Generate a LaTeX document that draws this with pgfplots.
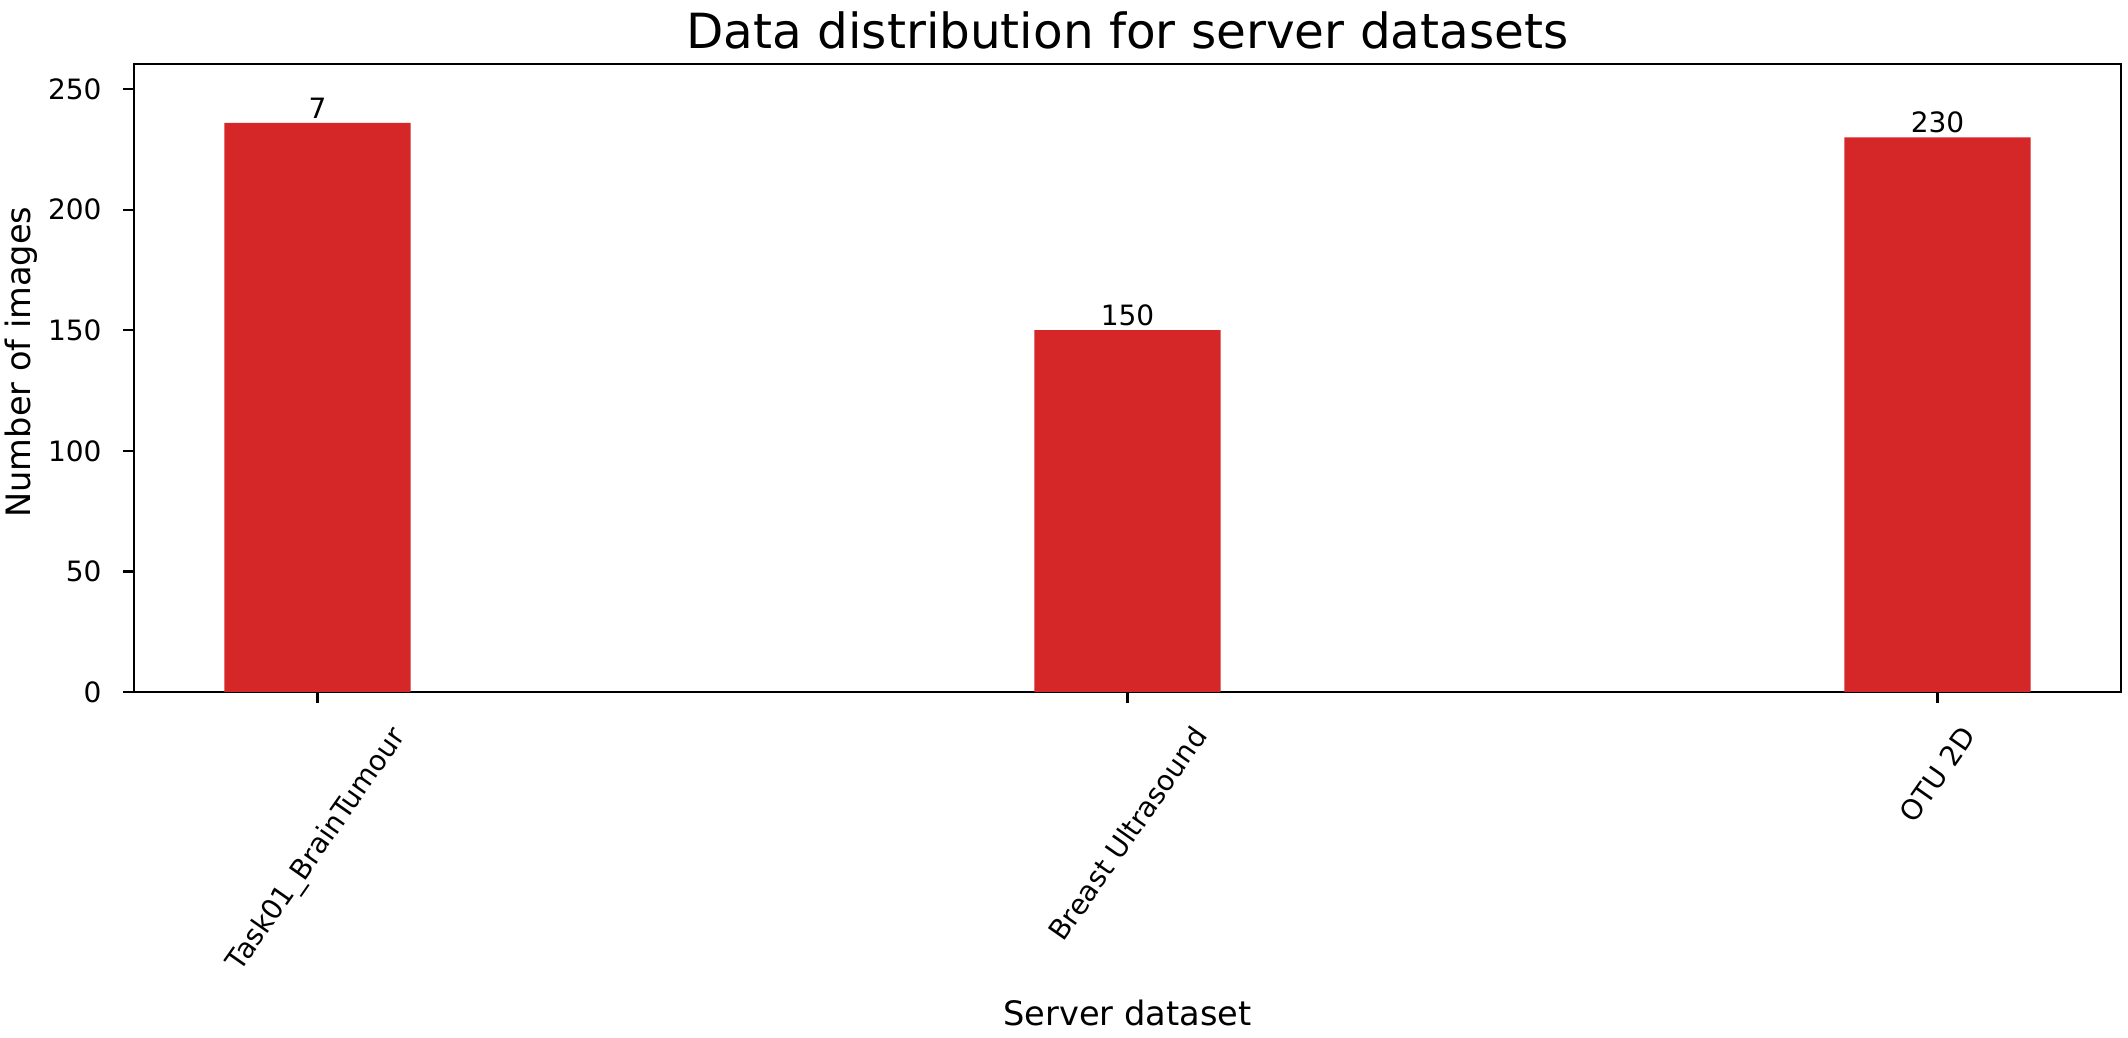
\documentclass[border=0pt]{standalone}
\usepackage{pgfplots}
\pgfplotsset{compat=1.18}
\usepackage{fontspec}
\setmainfont{DejaVu Sans}
\definecolor{tabred}{HTML}{D62728}
\begin{document}
\begin{tikzpicture}
\path[use as bounding box] (-47.84pt,-123.17pt) rectangle (711.86pt,247.04pt);
\begin{axis}[
  at={(0,0)}, anchor=south west,
  scale only axis, width=709.36pt, height=224.2pt,
  xmin=-0.2265, xmax=2.2265, ymin=0, ymax=260.4,
  ybar, bar width=0.23,
  axis line style={line width=0.8pt, black},
  every tick/.style={black, line width=0.8pt},
  tick align=outside, major tick length=3.8pt,
  tick pos=left,
  xtick={0,1,2},
  xticklabels={\rotatebox{55}{Task01\_BrainTumour}, \rotatebox{55}{Breast Ultrasound}, \rotatebox{55}{OTU 2D}},
  ytick={0,50,100,150,200,250},
  /pgf/number format/assume math mode=true,
  ticklabel style={font=\fontsize{10}{12}\selectfont},
  yticklabel style={anchor=east, inner sep=0pt, xshift=-7.6pt},
  xticklabel style={anchor=north, inner sep=0pt, yshift=-7.5pt},
  title={Data distribution for server datasets},
  title style={at={(axis description cs:0.5,1.0174)}, anchor=base, yshift=-4.5pt, font=\fontsize{17.3}{20}\selectfont},
  xlabel={Server dataset},
  xlabel style={at={(axis description cs:0.5,-0.5303)}, anchor=base, font=\fontsize{12}{14}\selectfont},
  ylabel={Number of images},
  ylabel style={at={(axis description cs:-0.0523,0.5255)}, anchor=base, font=\fontsize{12}{14}\selectfont},
]
\addplot[fill=tabred, draw=none, bar shift=0pt,
  nodes near coords, point meta=explicit symbolic,
  nodes near coords style={font=\fontsize{10}{12}\selectfont, anchor=south, inner sep=0pt, yshift=1.2pt, black}]
  coordinates {(0,236) [7] (1,150) [150] (2,230) [230]};
\end{axis}
\end{tikzpicture}
\end{document}
